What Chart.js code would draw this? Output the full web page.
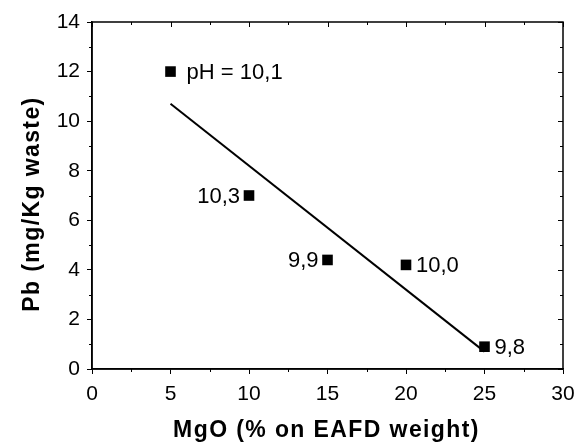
<!DOCTYPE html>
<html>
<head>
<meta charset="utf-8">
<script src="https://cdn.jsdelivr.net/npm/chart.js@4/dist/chart.umd.min.js"></script>
<style>
  html, body { margin: 0; padding: 0; background: #fff; }
  #wrap { width: 584px; height: 443px; }
</style>
</head>
<body>
<div id="wrap"><canvas id="pbChart"></canvas></div>
<script>
// MgO dosage (% on EAFD weight) vs leached Pb
const mgo = [5, 10, 15, 20, 25];
const pb = [12, 7, 4.4, 4.2, 0.9];
const phLabels = [" pH = 10,1", "10,3", "9,9", "10,0", "9,8"];
const labelSide = ["right", "left", "left", "right", "right"];

// fitted line end points
const fitX = [5, 25];
const fitY = [10.7, 0.7];

const xTitle = "MgO (% on EAFD weight)";
const yTitle = "Pb (mg/Kg waste)";

const FONT = "'Liberation Sans', Arial, sans-serif";

// minor ticks, mirrored ticks on top/right, point labels and axis titles
const decoPlugin = {
  id: "deco",
  afterDraw(chart) {
    const { ctx, chartArea: a, scales: { x, y } } = chart;
    ctx.save();
    ctx.strokeStyle = "#000";
    ctx.lineWidth = 1;
    ctx.beginPath();
    for (let v = 0; v <= 30; v += 2.5) {
      const px = Math.round(x.getPixelForValue(v)) + 0.5;
      const major = v % 5 === 0;
      if (!major) {
        ctx.moveTo(px, a.bottom);
        ctx.lineTo(px, a.bottom + 3);
      }
      ctx.moveTo(px, a.top);
      ctx.lineTo(px, a.top + (major ? 5 : 3));
    }
    for (let v = 0; v <= 14; v += 1) {
      const py = Math.round(y.getPixelForValue(v)) + 0.5;
      const major = v % 2 === 0;
      if (!major) {
        ctx.moveTo(a.left, py);
        ctx.lineTo(a.left - 3, py);
      }
      ctx.moveTo(a.right, py);
      ctx.lineTo(a.right - (major ? 5 : 3), py);
    }
    ctx.stroke();
    ctx.lineWidth = 1.5;
    ctx.strokeRect(a.left, a.top, a.right - a.left, a.bottom - a.top);

    // pH labels beside the points
    const pts = chart.getDatasetMeta(0).data;
    ctx.fillStyle = "#000";
    ctx.font = "22px " + FONT;
    ctx.textBaseline = "middle";
    pts.forEach((p, i) => {
      if (labelSide[i] === "right") {
        ctx.textAlign = "left";
        ctx.fillText(phLabels[i], p.x + 10, p.y + 1);
      } else {
        ctx.textAlign = "right";
        ctx.fillText(phLabels[i], p.x - 9, p.y + 1);
      }
    });

    // axis titles (slightly wide bold lettering as in the original)
    ctx.font = "bold 23px " + FONT;
    ctx.letterSpacing = "1.4px";
    ctx.textAlign = "center";
    ctx.textBaseline = "alphabetic";
    ctx.fillText(xTitle, (a.left + a.right) / 2 - 1, 437);
    ctx.translate(38.5, 205);
    ctx.rotate(-Math.PI / 2);
    ctx.fillText(yTitle, 1, 0);
    ctx.restore();
  }
};

new Chart(document.getElementById("pbChart"), {
  type: "scatter",
  data: {
    datasets: [
      {
        data: mgo.map((v, i) => ({ x: v, y: pb[i] })),
        pointStyle: "rect",
        pointRadius: 7.5,
        pointHoverRadius: 7.5,
        backgroundColor: "#000",
        borderColor: "#000",
        borderWidth: 0,
        showLine: false,
      },
      {
        data: fitX.map((v, i) => ({ x: v, y: fitY[i] })),
        showLine: true,
        borderColor: "#000",
        borderWidth: 2,
        pointRadius: 0,
      },
    ],
  },
  options: {
    responsive: true,
    maintainAspectRatio: false,
    animation: false,
    layout: { padding: { top: 22, right: 21, left: 0, bottom: 0 } },
    plugins: { legend: { display: false }, tooltip: { enabled: false } },
    scales: {
      x: {
        type: "linear",
        min: 0,
        max: 30,
        afterFit: (s) => { s.height = 74; },
        border: { color: "#000", width: 1.5 },
        grid: { drawOnChartArea: false, tickLength: 5, color: "#000" },
        ticks: { stepSize: 5, color: "#000", padding: 8, font: { family: FONT, size: 21 } },
        title: { display: false },
      },
      y: {
        min: 0,
        max: 14,
        afterFit: (s) => { s.width = 92; },
        border: { color: "#000", width: 1.5 },
        grid: { drawOnChartArea: false, tickLength: 5, color: "#000" },
        ticks: { stepSize: 2, color: "#000", padding: 7, font: { family: FONT, size: 21 } },
        title: { display: false },
      },
    },
  },
  plugins: [decoPlugin],
});
</script>
</body>
</html>
